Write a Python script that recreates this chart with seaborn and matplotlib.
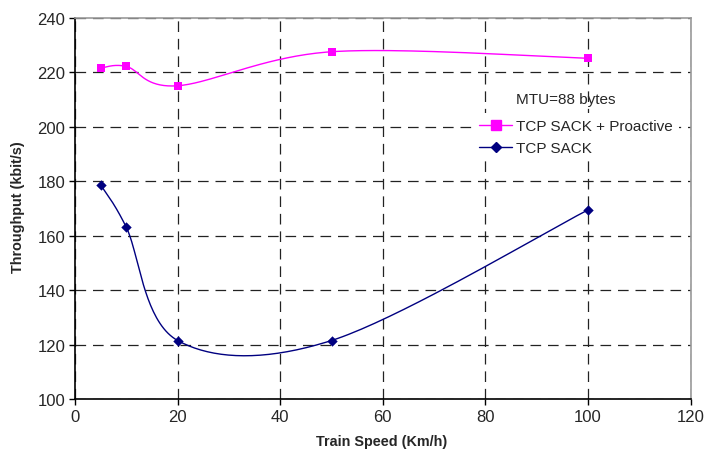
import numpy as np
import pandas as pd
import matplotlib
matplotlib.use("Agg")
import matplotlib.pyplot as plt
import seaborn as sns
from matplotlib.lines import Line2D

speed = [5, 10, 20, 50, 100]
proactive = [221.6, 222.2, 215.1, 227.6, 225.2]
sack = [178.7, 163.1, 121.5, 121.5, 169.5]
x_ticks = [0, 20, 40, 60, 80, 100, 120]
y_ticks = [100, 120, 140, 160, 180, 200, 220, 240]
series_names = ["TCP SACK + Proactive", "TCP SACK"]
legend_title = "MTU=88 bytes"


def excel_smooth(xs, ys, n=40):
    P = np.column_stack([xs, ys]).astype(float)
    out = []
    for i in range(len(P) - 1):
        p0 = P[i - 1] if i > 0 else P[i]
        p1 = P[i]
        p2 = P[i + 1]
        p3 = P[i + 2] if i + 2 < len(P) else P[i + 1]
        c1 = p1 + (p2 - p0) / 6.0
        c2 = p2 - (p3 - p1) / 6.0
        t = np.linspace(0, 1, n)[:, None]
        seg = ((1 - t) ** 3) * p1 + 3 * ((1 - t) ** 2) * t * c1 + 3 * (1 - t) * t ** 2 * c2 + t ** 3 * p2
        out.append(seg if i == 0 else seg[1:])
    s = np.vstack(out)
    return s[:, 0], s[:, 1]


sns.set_style("white")
plt.rcParams['font.family'] = ['Liberation Sans', 'DejaVu Sans']

fig = plt.figure(figsize=(7.05, 4.52), dpi=100)
ax = fig.add_axes([0.1064, 0.115, 0.8733, 0.843])

colors = ["#FF00FF", "#000080"]
markers = ["s", "D"]
msizes = [38, 28]
for name, vals, c, m, ms in zip(series_names, [proactive, sack], colors, markers, msizes):
    sx, sy = excel_smooth(speed, vals)
    sdf = pd.DataFrame({"x": sx, "y": sy})
    sns.lineplot(data=sdf, x="x", y="y", ax=ax, color=c, linewidth=1.0, sort=False,
                 estimator=None, zorder=3)
    pdf = pd.DataFrame({"x": speed, "y": vals})
    sns.scatterplot(data=pdf, x="x", y="y", ax=ax, color=c, marker=m, s=ms,
                    edgecolor=c, linewidth=0, zorder=4)

ax.set_xlim(0, 120)
ax.set_ylim(100, 240)
ax.set_xticks(x_ticks)
ax.set_yticks(y_ticks)
ax.tick_params(axis='both', labelsize=12, direction='out', length=4, width=1,
               color='black', pad=3, left=True, bottom=True)
ax.grid(True, color='#222222', linestyle=(0, (8.5, 5.5)), linewidth=0.9)
ax.set_axisbelow(True)
for side in ['left', 'bottom']:
    ax.spines[side].set_color('black')
    ax.spines[side].set_linewidth(1.2)
for side in ['top', 'right']:
    ax.spines[side].set_color('#999999')
    ax.spines[side].set_linewidth(1.2)

ax.set_xlabel("Train Speed (Km/h)", fontsize=10.4, fontweight='bold')
ax.xaxis.set_label_coords(0.4986, -0.092)
ax.set_ylabel("Throughput (kbit/s)", fontsize=10.4, fontweight='bold')
ax.yaxis.set_label_coords(-0.081, 0.5066)

handles = [Line2D([0], [0], color=colors[0], marker='s', markersize=6.5, linewidth=1),
           Line2D([0], [0], color=colors[1], marker='D', markersize=5.5, linewidth=1)]
leg = ax.legend(handles, series_names, loc='upper left', bbox_to_anchor=(0.6464, 0.751),
                frameon=True, fontsize=11, handlelength=2.15, handletextpad=0.26,
                borderpad=0.4, labelspacing=0.55, borderaxespad=0)
leg.get_frame().set_facecolor('white')
leg.get_frame().set_edgecolor('none')
leg.get_frame().set_alpha(1)
ax.text(0.7163, 0.787, legend_title, transform=ax.transAxes, fontsize=11,
        ha='left', va='center')

fig.savefig("out.png", dpi=100)
